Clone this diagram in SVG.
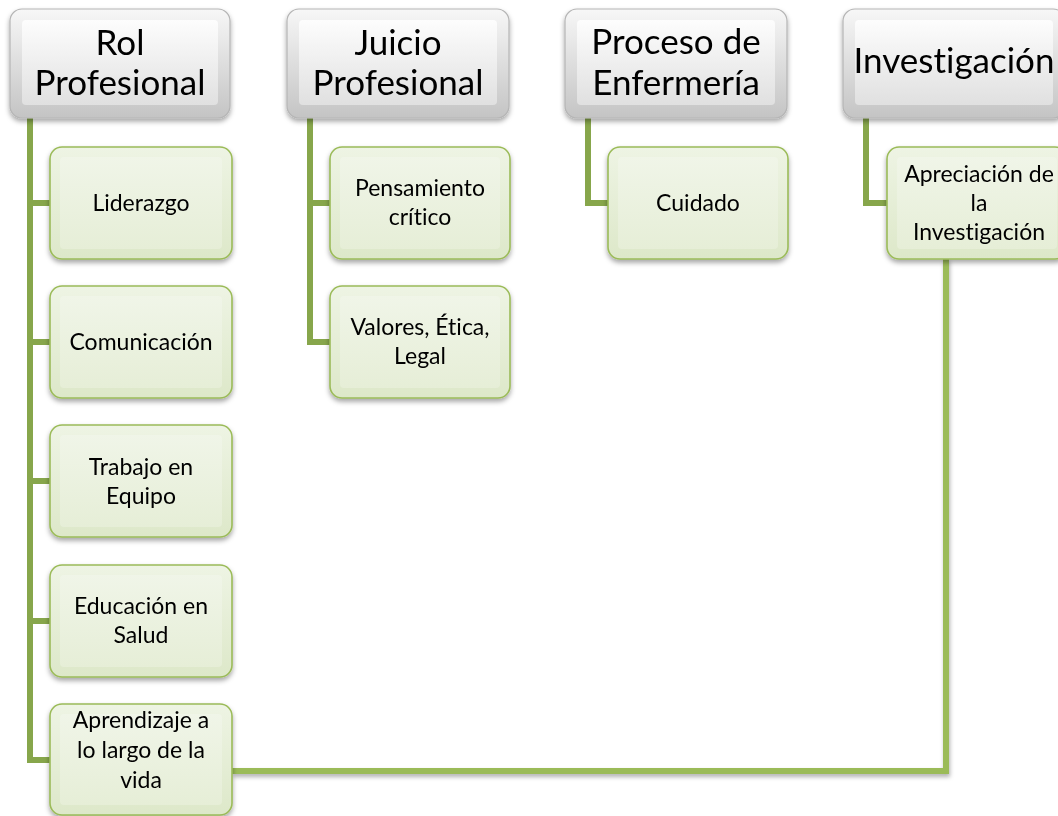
<svg xmlns="http://www.w3.org/2000/svg" width="1058" height="816" viewBox="0 0 1058 816">
<defs>
<linearGradient id="gTop" x1="0" y1="0" x2="0" y2="1">
<stop offset="0" stop-color="#f7f7f7"/><stop offset="1" stop-color="#c4c4c4"/>
</linearGradient>
<linearGradient id="gTopIn" x1="0" y1="0" x2="0" y2="1">
<stop offset="0" stop-color="#fdfdfd"/><stop offset="1" stop-color="#e0e0e0"/>
</linearGradient>
<linearGradient id="gCh" x1="0" y1="0" x2="0" y2="1">
<stop offset="0" stop-color="#eef4e4"/><stop offset="1" stop-color="#dde8c9"/>
</linearGradient>
<linearGradient id="gChIn" x1="0" y1="0" x2="0" y2="1">
<stop offset="0" stop-color="#f0f5e8"/><stop offset="1" stop-color="#e6eed7"/>
</linearGradient>
<filter id="sh" x="-10%" y="-10%" width="120%" height="130%">
<feDropShadow dx="0" dy="3" stdDeviation="2.5" flood-color="#000" flood-opacity="0.35"/>
</filter>
<filter id="lsh" x="-5%" y="-50%" width="110%" height="200%">
<feDropShadow dx="1" dy="3" stdDeviation="2" flood-color="#000" flood-opacity="0.3"/>
</filter>
</defs>
<style>
.top{fill:url(#gTop);stroke:#b5b5b5;stroke-width:1.2}
.topIn{fill:url(#gTopIn)}
.ch{fill:url(#gCh);stroke:#9bbb59;stroke-width:1.6}
.chIn{fill:url(#gChIn)}
text{font-variant-ligatures:none;font-feature-settings:"liga" 0,"clig" 0}
.tt{font-family:Lato,"Liberation Sans",sans-serif;font-size:35px;fill:#000;text-anchor:middle}
.ct{font-family:Lato,"Liberation Sans",sans-serif;font-size:23px;fill:#000;text-anchor:middle}
.lk{stroke:#9bbb59;stroke-width:7;fill:none}
.tr{stroke:#87a64b;stroke-width:6;fill:none;stroke-linejoin:miter}
.bl{stroke:#9bbb59;stroke-width:6;fill:none}
</style>
<g id="connectors">
<line class="lk" x1="229" y1="60" x2="284" y2="60" filter="url(#lsh)"/>
<line class="lk" x1="509" y1="66" x2="559" y2="66" filter="url(#lsh)"/>
<line class="lk" x1="787" y1="67" x2="838" y2="67" filter="url(#lsh)"/>
<path class="tr" d="M30 118 V760 H50 M30 203 H50 M30 342 H50 M30 481 H50 M30 621 H50"/>
<path class="tr" d="M310 118 V342 H330 M310 203 H330"/>
<path class="tr" d="M588 118 V203 H608"/>
<path class="tr" d="M866 118 V203 H887"/>
<path class="bl" d="M232 771 H946 V258" filter="url(#lsh)"/>
</g>
<g id="n-rol" filter="url(#sh)">
<rect class="top" x="10" y="9" width="220" height="109" rx="12"/>
<rect class="topIn" x="22" y="20" width="196" height="85" rx="4"/>
<text class="tt" x="120" y="55">Rol</text>
<text class="tt" x="120" y="95">Profesional</text>
</g>
<g id="n-juicio" filter="url(#sh)">
<rect class="top" x="287" y="9" width="222" height="109" rx="12"/>
<rect class="topIn" x="299" y="20" width="198" height="85" rx="4"/>
<text class="tt" x="398" y="55">Juicio</text>
<text class="tt" x="398" y="95">Profesional</text>
</g>
<g id="n-proceso" filter="url(#sh)">
<rect class="top" x="565" y="9" width="222" height="109" rx="12"/>
<rect class="topIn" x="577" y="20" width="198" height="85" rx="4"/>
<text class="tt" x="676" y="54">Proceso de</text>
<text class="tt" x="676" y="95">Enfermería</text>
</g>
<g id="n-investigacion" filter="url(#sh)">
<rect class="top" x="843" y="9" width="222" height="109" rx="12"/>
<rect class="topIn" x="855" y="20" width="198" height="85" rx="4"/>
<text class="tt" x="954" y="73">Investigación</text>
</g>
<g id="n-liderazgo" filter="url(#sh)">
<rect class="ch" x="50" y="147" width="182" height="112" rx="12"/>
<rect class="chIn" x="60" y="157" width="162" height="92" rx="4"/>
<text class="ct" x="141" y="211">Liderazgo</text>
</g>
<g id="n-comunicacion" filter="url(#sh)">
<rect class="ch" x="50" y="286" width="182" height="112" rx="12"/>
<rect class="chIn" x="60" y="296" width="162" height="92" rx="4"/>
<text class="ct" x="141" y="350">Comunicación</text>
</g>
<g id="n-trabajo" filter="url(#sh)">
<rect class="ch" x="50" y="425" width="182" height="112" rx="12"/>
<rect class="chIn" x="60" y="435" width="162" height="92" rx="4"/>
<text class="ct" x="141" y="475">Trabajo en</text>
<text class="ct" x="141" y="504">Equipo</text>
</g>
<g id="n-educacion" filter="url(#sh)">
<rect class="ch" x="50" y="565" width="182" height="112" rx="12"/>
<rect class="chIn" x="60" y="575" width="162" height="92" rx="4"/>
<text class="ct" x="141" y="614">Educación en</text>
<text class="ct" x="141" y="643">Salud</text>
</g>
<g id="n-aprendizaje" filter="url(#sh)">
<rect class="ch" x="50" y="704" width="182" height="111" rx="12"/>
<rect class="chIn" x="60" y="714" width="162" height="91" rx="4"/>
<text class="ct" x="141" y="728">Aprendizaje a</text>
<text class="ct" x="141" y="758">lo largo de la</text>
<text class="ct" x="141" y="788">vida</text>
</g>
<g id="n-pensamiento" filter="url(#sh)">
<rect class="ch" x="330" y="147" width="180" height="112" rx="12"/>
<rect class="chIn" x="340" y="157" width="160" height="92" rx="4"/>
<text class="ct" x="420" y="196">Pensamiento</text>
<text class="ct" x="420" y="225">crítico</text>
</g>
<g id="n-valores" filter="url(#sh)">
<rect class="ch" x="330" y="286" width="180" height="112" rx="12"/>
<rect class="chIn" x="340" y="296" width="160" height="92" rx="4"/>
<text class="ct" x="420" y="335">Valores, Ética,</text>
<text class="ct" x="420" y="364">Legal</text>
</g>
<g id="n-cuidado" filter="url(#sh)">
<rect class="ch" x="608" y="147" width="180" height="112" rx="12"/>
<rect class="chIn" x="618" y="157" width="160" height="92" rx="4"/>
<text class="ct" x="698" y="211">Cuidado</text>
</g>
<g id="n-apreciacion" filter="url(#sh)">
<rect class="ch" x="887" y="147" width="180" height="112" rx="12"/>
<rect class="chIn" x="897" y="157" width="160" height="92" rx="4"/>
<text class="ct" x="979" y="182">Apreciación de</text>
<text class="ct" x="979" y="211">la</text>
<text class="ct" x="979" y="240">Investigación</text>
</g>
</svg>
